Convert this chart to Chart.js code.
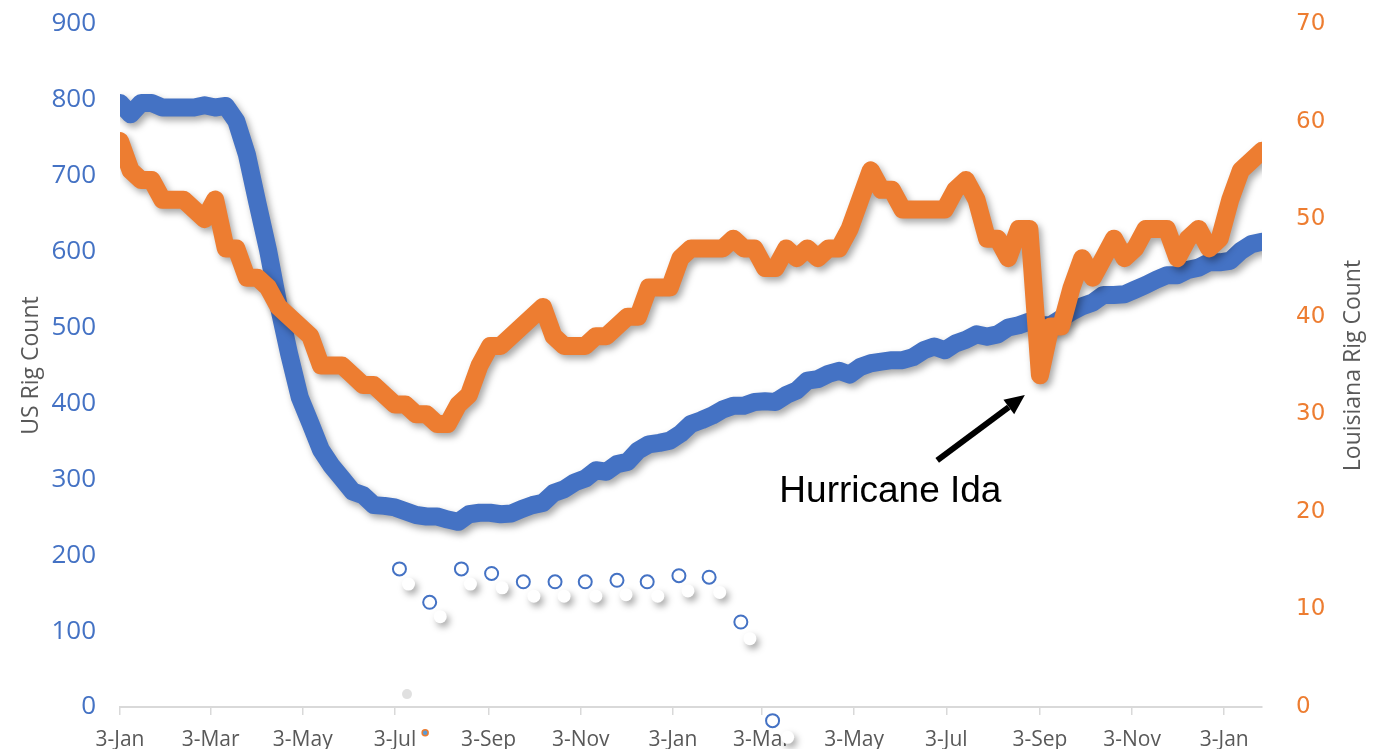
<!DOCTYPE html>
<html>
<head>
<meta charset="utf-8">
<script src="https://cdn.jsdelivr.net/npm/chart.js@4.4.1/dist/chart.umd.min.js"></script>
<style>
  html, body { margin: 0; padding: 0; background: #fff; }
  #wrap { width: 1381px; height: 749px; }
</style>
</head>
<body>
<div id="wrap"><canvas id="Chart" width="1381" height="749"></canvas></div>
<script>
// weekly rig counts, first Friday = 3-Jan-2020, last = 28-Jan-2022
const firstWeek = Date.UTC(2020, 0, 3);

const usRigs = [
  796, 781, 796, 796, 790, 790, 790, 790, 793, 790, 792, 772, 728, 664, 602, 529,
  465, 408, 374, 339, 318, 301, 284, 279, 266, 265, 263, 258, 253, 251, 251, 247,
  244, 254, 256, 256, 254, 255, 261, 266, 269, 282, 287, 296, 301, 312, 310, 320,
  323, 338, 346, 348, 351,
  360, 373, 378, 384, 392, 397, 397, 402, 403, 402, 411, 417, 430, 432, 439, 443,
  438, 448, 453, 455, 457, 457, 461, 470, 475, 470, 479, 484, 491, 488, 491, 500,
  503, 508, 503, 503, 512, 521, 528, 533, 543, 543, 544, 550, 556, 563, 569, 569,
  576, 579, 586, 586,
  588, 601, 610, 613
];

const laRigs = [
  58, 55, 54, 54, 52, 52, 52, 51, 50, 52, 47, 47, 44, 44, 43, 41,
  40, 39, 38, 35, 35, 35, 34, 33, 33, 32, 31, 31, 30, 30, 29, 29,
  31, 32, 35, 37, 37, 38, 39, 40, 41, 38, 37, 37, 37, 38, 38, 39,
  40, 40, 43, 43, 43,
  46, 47, 47, 47, 47, 48, 47, 47, 45, 45, 47, 46, 47, 46, 47, 47,
  49, 52, 55, 53, 53, 51, 51, 51, 51, 51, 53, 54, 52, 48, 48, 46,
  49, 49, 34, 39, 39, 43, 46, 44, 46, 48, 46, 47, 49, 49, 49, 46,
  48, 49, 47, 48,
  52, 55, 56, 57
];

// x-axis: date axis with a label every two months
const tickDates = ['2020-01-03', '2020-03-03', '2020-05-03', '2020-07-03', '2020-09-03',
  '2020-11-03', '2021-01-03', '2021-03-03', '2021-05-03', '2021-07-03', '2021-09-03',
  '2021-11-03', '2022-01-03'];
const tickLabels = ['3-Jan', '3-Mar', '3-May', '3-Jul', '3-Sep', '3-Nov', '3-Jan',
  '3-Mar', '3-May', '3-Jul', '3-Sep', '3-Nov', '3-Jan'];

// stray marker series seen under the lines (days after 3-Jan-2020, US axis units)
const ringDays = [185, 205, 226, 246, 267, 288, 308, 329, 349, 370, 390, 411, 432];
const ringValues = [182, 138, 182, 176, 165, 165, 165, 167, 165, 173, 171, 112, -18];
const ghostDays = [191, 212, 232, 253, 274, 294, 315, 335, 356, 376, 397, 417, 442];
const ghostValues = [162, 119, 162, 157, 146, 146, 146, 148, 146, 153, 151, 90, -40];
const blobDays = [190];
const blobValues = [17];
const dotDays = [202];
const dotValues = [-34];

// annotation, in axis units
const idaText = 'Hurricane Ida';
const idaTextAt = [510, 283];
const idaArrowFrom = [541, 325];
const idaArrowTo = [599, 411];

const dayMs = 86400000;
const tickDays = tickDates.map(d => (Date.parse(d) - firstWeek) / dayMs);
const lastDay = (usRigs.length - 1) * 7;

function weekly(values) {
  return values.map((v, i) => ({ x: i * 7, y: v }));
}
function pairs(xs, ys) {
  return xs.map((x, i) => ({ x: x, y: ys[i] }));
}

const BLUE = '#4472C4';
const ORANGE = '#ED7D31';
const GREY = '#595959';

// soft drop shadow like the office chart; also lets marker datasets
// with clip:false show the points that fall under the x axis
const shadowPlugin = {
  id: 'shadow',
  beforeDatasetDraw(chart, args) {
    const ds = chart.data.datasets[args.index];
    if (!ds.shadow) return;
    const ctx = chart.ctx;
    ctx.save();
    ctx.shadowColor = 'rgba(0,0,0,0.35)';
    ctx.shadowBlur = 7;
    ctx.shadowOffsetX = 3;
    ctx.shadowOffsetY = 4;
  },
  afterDatasetDraw(chart, args) {
    const ds = chart.data.datasets[args.index];
    if (ds.clip === false && ds.showLine === false) {
      const area = chart.chartArea;
      const full = { left: 0, top: 0, right: chart.width, bottom: chart.height };
      args.meta.data.forEach(function (el) {
        if (el.y > area.bottom) el.draw(chart.ctx, full);
      });
    }
    if (ds.shadow) chart.ctx.restore();
  }
};

// both axis titles read bottom to top
const titlesPlugin = {
  id: 'titles',
  afterDraw(chart) {
    const ctx = chart.ctx;
    const a = chart.chartArea;
    const midY = (a.top + a.bottom) / 2;
    ctx.save();
    ctx.fillStyle = GREY;
    ctx.font = '23px "Open Sans"';
    ctx.textAlign = 'center';
    ctx.textBaseline = 'middle';
    ctx.save();
    ctx.translate(31, midY);
    ctx.rotate(-Math.PI / 2);
    ctx.fillText('US Rig Count', 0, 0);
    ctx.restore();
    ctx.save();
    ctx.translate(chart.scales.y1.right - 28, midY);
    ctx.rotate(-Math.PI / 2);
    ctx.fillText('Louisiana Rig Count', 0, 0);
    ctx.restore();
    ctx.restore();
  }
};

const idaPlugin = {
  id: 'ida',
  afterDatasetsDraw(chart) {
    const ctx = chart.ctx;
    const sx = chart.scales.x, sy = chart.scales.y;
    const x0 = sx.getPixelForValue(idaArrowFrom[0]), y0 = sy.getPixelForValue(idaArrowFrom[1]);
    const x1 = sx.getPixelForValue(idaArrowTo[0]), y1 = sy.getPixelForValue(idaArrowTo[1]);
    const ang = Math.atan2(y1 - y0, x1 - x0);
    const head = 20, half = 9;
    const bx = x1 - head * Math.cos(ang), by = y1 - head * Math.sin(ang);
    ctx.save();
    ctx.strokeStyle = '#000';
    ctx.fillStyle = '#000';
    ctx.lineWidth = 6;
    ctx.beginPath();
    ctx.moveTo(x0, y0);
    ctx.lineTo(bx, by);
    ctx.stroke();
    ctx.beginPath();
    ctx.moveTo(x1, y1);
    ctx.lineTo(bx + half * Math.sin(ang), by - half * Math.cos(ang));
    ctx.lineTo(bx - half * Math.sin(ang), by + half * Math.cos(ang));
    ctx.closePath();
    ctx.fill();
    ctx.font = '37px "Liberation Sans"';
    ctx.textAlign = 'center';
    ctx.textBaseline = 'middle';
    ctx.fillText(idaText, sx.getPixelForValue(idaTextAt[0]), sy.getPixelForValue(idaTextAt[1]));
    ctx.restore();
  }
};

const lineStyle = {
  borderWidth: 18,
  pointRadius: 0,
  tension: 0,
  borderJoinStyle: 'round',
  borderCapStyle: 'round',
  fill: false,
  shadow: true
};

// y axes: fixed width, no extra padding reserved for the end labels
function fitY(width) {
  return function (scale) {
    scale.width = width;
    scale.paddingTop = 0;
    scale.paddingBottom = 0;
  };
}

let ctx = document.getElementById('Chart').getContext('2d');
let myChart = new Chart(ctx, {
  type: 'line',
  data: {
    datasets: [
      Object.assign({
        label: 'Louisiana Rig Count',
        data: weekly(laRigs),
        borderColor: ORANGE,
        yAxisID: 'y1',
        order: 1
      }, lineStyle),
      Object.assign({
        label: 'US Rig Count',
        data: weekly(usRigs),
        borderColor: BLUE,
        yAxisID: 'y',
        order: 2
      }, lineStyle),
      {
        label: 'rings',
        data: pairs(ringDays, ringValues),
        showLine: false,
        pointRadius: 6.5,
        pointBorderWidth: 2,
        pointBorderColor: BLUE,
        pointBackgroundColor: '#fff',
        yAxisID: 'y',
        clip: false,
        order: 3
      },
      {
        label: 'ghosts',
        data: pairs(ghostDays, ghostValues),
        showLine: false,
        pointRadius: 6.5,
        pointBorderWidth: 0,
        pointBorderColor: '#fff',
        pointBackgroundColor: '#fff',
        yAxisID: 'y',
        clip: false,
        shadow: true,
        order: 4
      },
      {
        label: 'blob',
        data: pairs(blobDays, blobValues),
        showLine: false,
        pointRadius: 5,
        pointBorderWidth: 0,
        pointBackgroundColor: 'rgba(0,0,0,0.12)',
        yAxisID: 'y',
        clip: false,
        order: 5
      },
      {
        label: 'dot',
        data: pairs(dotDays, dotValues),
        showLine: false,
        pointRadius: 3,
        pointBorderWidth: 1.5,
        pointBorderColor: ORANGE,
        pointBackgroundColor: '#5B9BD5',
        yAxisID: 'y',
        clip: false,
        order: 5
      }
    ]
  },
  options: {
    responsive: false,
    animation: false,
    layout: { padding: { top: 24, left: 0, right: 0, bottom: 0 } },
    plugins: {
      legend: { display: false },
      tooltip: { enabled: false }
    },
    scales: {
      x: {
        type: 'linear',
        min: 0,
        max: lastDay,
        afterBuildTicks: function (scale) {
          scale.ticks = tickDays.map(d => ({ value: d }));
        },
        afterFit: function (scale) { scale.height = 42; },
        grid: {
          drawOnChartArea: false,
          drawTicks: true,
          tickLength: 8,
          color: '#D9D9D9',
          lineWidth: 1.5
        },
        border: { display: true, color: '#D9D9D9', width: 2 },
        ticks: {
          autoSkip: false,
          maxRotation: 0,
          padding: 12,
          color: GREY,
          font: { family: 'Open Sans', size: 21 },
          callback: function (value) {
            const i = tickDays.indexOf(value);
            return i >= 0 ? tickLabels[i] : '';
          }
        }
      },
      y: {
        position: 'left',
        min: 0,
        max: 900,
        afterFit: fitY(120),
        grid: { display: false },
        border: { display: false },
        ticks: {
          stepSize: 100,
          padding: 16,
          color: BLUE,
          font: { family: 'Open Sans', size: 26 }
        }
      },
      y1: {
        position: 'right',
        min: 0,
        max: 70,
        afterFit: fitY(119),
        grid: { display: false },
        border: { display: false },
        ticks: {
          stepSize: 10,
          padding: 26,
          color: ORANGE,
          font: { family: 'DejaVu Sans', size: 23 }
        }
      }
    }
  },
  plugins: [shadowPlugin, titlesPlugin, idaPlugin]
});
</script>
</body>
</html>
